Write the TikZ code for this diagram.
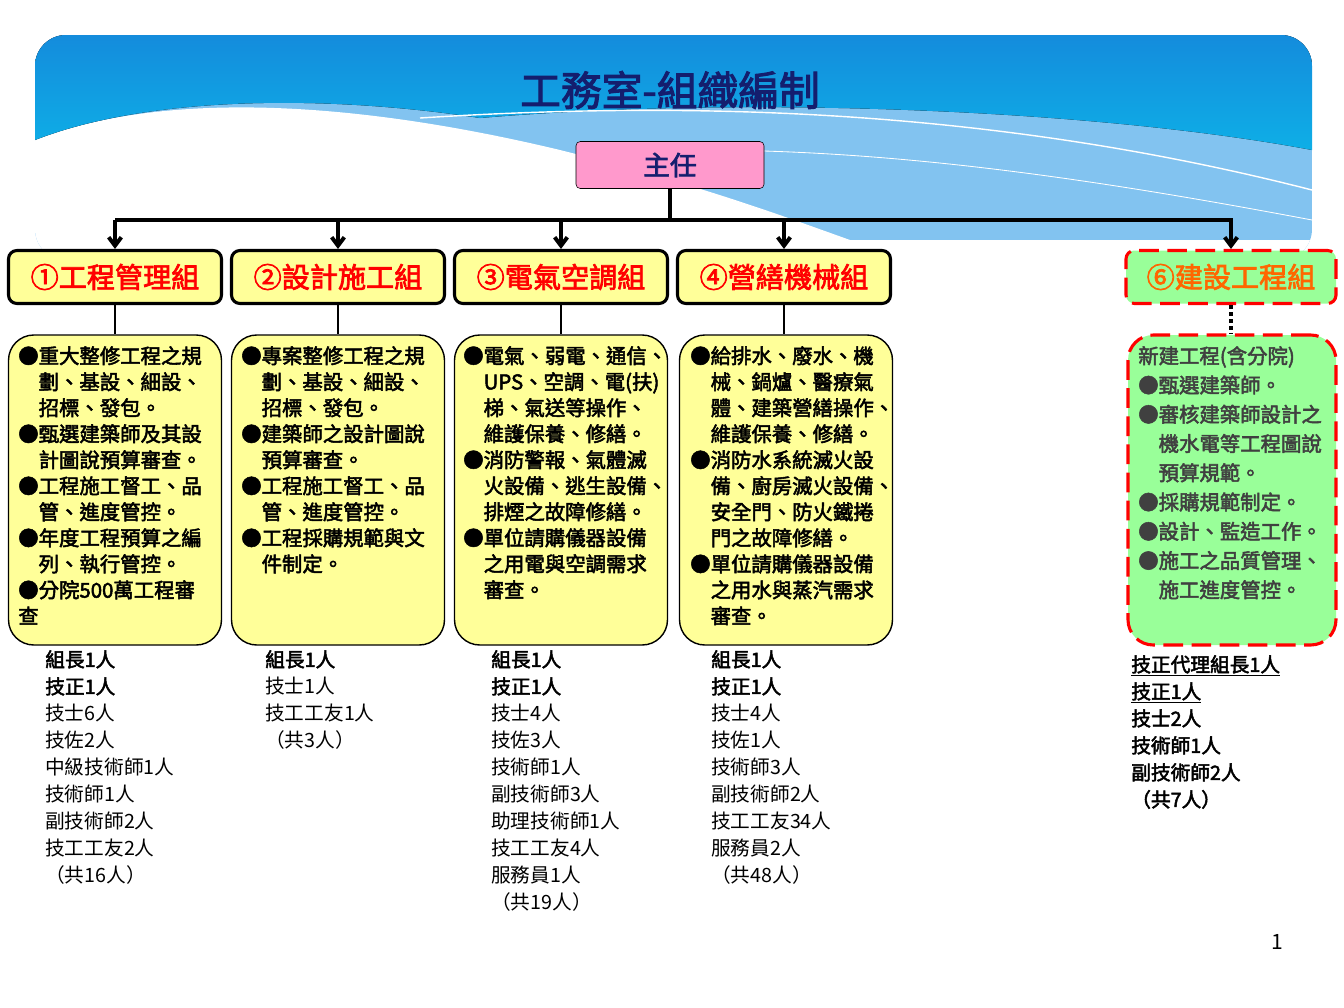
\documentclass[tikz,border=0pt]{standalone}
\usepackage{fontspec}
\setmainfont{Noto Sans CJK TC}[AutoFakeBold=2.5]
\usepackage{xcolor}
\usetikzlibrary{arrows.meta}
\definecolor{hdrblue}{RGB}{20,140,220}
\definecolor{lightband}{RGB}{130,195,240}
\definecolor{bossfill}{RGB}{255,153,204}
\definecolor{grpfill}{RGB}{255,255,153}
\definecolor{newfill}{RGB}{153,255,153}
\definecolor{titleblue}{RGB}{20,30,110}
\definecolor{newtext}{RGB}{255,102,0}
\definecolor{dutygray}{RGB}{64,64,64}
\newcommand{\ind}{\hspace*{1em}}
\newcommand{\bul}{●}

\begin{document}
\begin{tikzpicture}[x=0.025cm, y=-0.025cm,
		grpbox/.style={
				rectangle,
				draw,
				line width=2.2pt,
				fill=grpfill,
				rounded corners=6pt,
				minimum width=213*0.025cm,
				minimum height=53*0.025cm,
				text=red,
				font=\fontsize{20}{24}\selectfont\bfseries
			},
		dutybox/.style={
				rectangle,
				draw,
				line width=1pt,
				fill=grpfill,
				rounded corners=18pt,
				minimum width=213*0.025cm,
				minimum height=310*0.025cm
			},
		dutytext/.style={
				anchor=north west,
				align=left,
				inner sep=0pt,
				font=\fontsize{14.5}{18.5}\selectfont\bfseries
			},
		staff/.style={
				anchor=north west,
				align=left,
				inner sep=0pt,
				font=\fontsize{14}{19.2}\selectfont
			},
		line/.style={draw, line width=2.8pt},
		arrowline/.style={draw, line width=2.8pt, -{Straight Barb[length=6pt,width=9pt]}}
	]
	\useasboundingbox (0,0) rectangle (1344,1008);
	% Header band
	\begin{scope}
		\clip[rounded corners=22pt] (35,35) rectangle (1312,260);
		\fill[lightband] (35,35) rectangle (1312,260);
		\fill[white] (35,140) .. controls (150,95) and (330,95) .. (560,150)
			.. controls (700,185) and (780,215) .. (850,240) -- (1312,240) -- (1312,260) -- (35,260) -- cycle;
		\fill[top color=hdrblue, bottom color=hdrblue!70!cyan] (35,35) -- (1312,35) -- (1312,150)
			.. controls (1100,110) and (750,95) .. (480,118)
			.. controls (330,95) and (150,95) .. (35,140) -- cycle;
		\draw[white, line width=1pt] (420,118) .. controls (700,100) and (1000,110) .. (1312,190);
		\draw[white, line width=0.6pt] (700,150) .. controls (900,150) and (1100,180) .. (1312,220);
	\end{scope}
	% Title and head
	\node[text=titleblue, font=\fontsize{29}{34}\selectfont\bfseries] (title) at (670,90) {工務室-組織編制};
	\node[draw, fill=bossfill, rounded corners=3pt, minimum width=188*0.025cm, minimum height=47*0.025cm,
		text=titleblue, font=\fontsize{19}{22}\selectfont\bfseries] (boss) at (670,165) {主任};
	% Groups
	\node[grpbox] (g1) at (115,277) {①工程管理組};
	\node[grpbox] (g2) at (338,277) {②設計施工組};
	\node[grpbox] (g3) at (561,277) {③電氣空調組};
	\node[grpbox] (g4) at (784,277) {④營繕機械組};
	\node[grpbox, draw=red, dashed, dash pattern=on 14pt off 6pt, fill=newfill, text=newtext,
		minimum width=210*0.025cm] (g6) at (1231,277) {⑥建設工程組};
	% Duty boxes
	\node[dutybox] (d1) at (115,490) {};
	\node[dutybox] (d2) at (338,490) {};
	\node[dutybox] (d3) at (561,490) {};
	\node[dutybox] (d4) at (786,490) {};
	\node[dutybox, draw=red, line width=2.2pt, dash pattern=on 14pt off 6pt, fill=newfill,
		minimum width=208*0.025cm] (d6) at (1232,490) {};
	% Draw edges
	\coordinate (bus) at (670,220);
	\path[line] (boss) -- (bus);
	\path[line] (115,220) -- (1233,220);
	\foreach \g in {g1,g2,g3,g4,g6}
		\path[arrowline] (bus -| \g.north) -- (\g.north);
	\foreach \i in {1,2,3,4}
		\path[draw, line width=1.6pt] (g\i.south) -- (g\i.south |- d\i.north);
	\path[draw, line width=2.5pt, dash pattern=on 2.5pt off 2.5pt] (g6.south) -- (g6.south |- d6.north);
	% Duty texts
	\node[dutytext] (t1) at (18,346) {\bul 重大整修工程之規\\\ind 劃、基設、細設、\\\ind 招標、發包。\\
		\bul 甄選建築師及其設\\\ind 計圖說預算審查。\\\bul 工程施工督工、品\\\ind 管、進度管控。\\
		\bul 年度工程預算之編\\\ind 列、執行管控。\\\bul 分院500萬工程審\\查};
	\node[dutytext] (t2) at (241,346) {\bul 專案整修工程之規\\\ind 劃、基設、細設、\\\ind 招標、發包。\\
		\bul 建築師之設計圖說\\\ind 預算審查。\\\bul 工程施工督工、品\\\ind 管、進度管控。\\
		\bul 工程採購規範與文\\\ind 件制定。};
	\node[dutytext] (t3) at (463,346) {\bul 電氣、弱電、通信、\\\ind UPS、空調、電(扶)\\\ind 梯、氣送等操作、\\
		\ind 維護保養、修繕。\\\bul 消防警報、氣體滅\\\ind 火設備、逃生設備、\\\ind 排煙之故障修繕。\\
		\bul 單位請購儀器設備\\\ind 之用電與空調需求\\\ind 審查。};
	\node[dutytext] (t4) at (690,346) {\bul 給排水、廢水、機\\\ind 械、鍋爐、醫療氣\\\ind 體、建築營繕操作、\\
		\ind 維護保養、修繕。\\\bul 消防水系統滅火設\\\ind 備、廚房滅火設備、\\\ind 安全門、防火鐵捲\\
		\ind 門之故障修繕。\\\bul 單位請購儀器設備\\\ind 之用水與蒸汽需求\\\ind 審查。};
	\node[dutytext, text=dutygray, font=\fontsize{14.5}{20.8}\selectfont\bfseries] (t6) at (1138,346)
		{新建工程(含分院)\\\bul 甄選建築師。\\\bul 審核建築師設計之\\\ind 機水電等工程圖說\\\ind 預算規範。\\
		\bul 採購規範制定。\\\bul 設計、監造工作。\\\bul 施工之品質管理、\\\ind 施工進度管控。};
	% Staff lists
	\node[staff] (s1) at (45,650) {\textbf{組長1人}\\\textbf{技正1人}\\技士6人\\技佐2人\\中級技術師1人\\
		技術師1人\\副技術師2人\\技工工友2人\\（共16人）};
	\node[staff] (s2) at (265,650) {\textbf{組長1人}\\技士1人\\技工工友1人\\（共3人）};
	\node[staff] (s3) at (491,650) {\textbf{組長1人}\\\textbf{技正1人}\\技士4人\\技佐3人\\技術師1人\\
		副技術師3人\\助理技術師1人\\技工工友4人\\服務員1人\\（共19人）};
	\node[staff] (s4) at (711,650) {\textbf{組長1人}\\\textbf{技正1人}\\技士4人\\技佐1人\\技術師3人\\
		副技術師2人\\技工工友34人\\服務員2人\\（共48人）};
	\node[staff, font=\fontsize{14}{19.2}\selectfont\bfseries] (s6) at (1131,655)
		{\underline{技正代理組長1人}\\\underline{技正1人}\\技士2人\\技術師1人\\副技術師2人\\（共7人）};
	% Page number
	\node[font=\fontsize{15}{18}\selectfont] (pagenum) at (1277,942) {1};
\end{tikzpicture}
\end{document}
